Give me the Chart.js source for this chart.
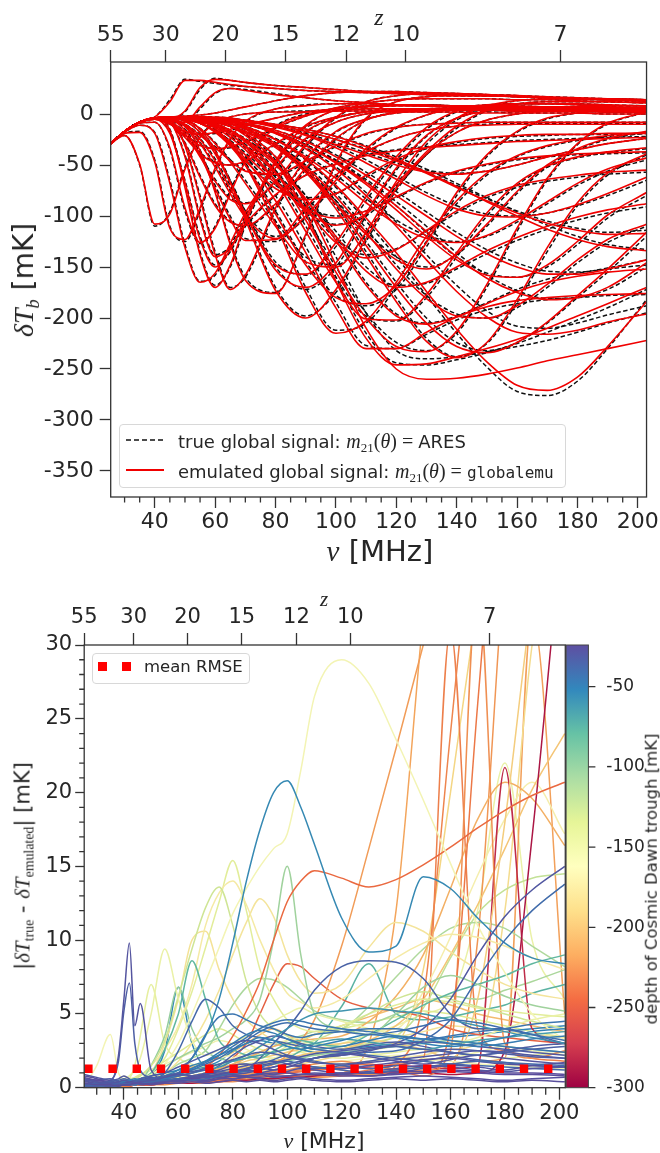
<!DOCTYPE html>
<html>
<head>
<meta charset="utf-8">
<script src="https://cdn.jsdelivr.net/npm/chart.js@4.4.1/dist/chart.umd.min.js"></script>
<style>
body { margin: 0; background: #fff; }
#wrap { position: relative; width: 660px; height: 1153px; overflow: hidden; }
.box { position: absolute; left: 0; width: 660px; }
.t { position: absolute; white-space: nowrap; color: #262626; font-family: 'DejaVu Sans', sans-serif; line-height: 1; }
.c { transform: translate(-50%, -50%); }
.r { transform: translate(-50%, -50%) rotate(-90deg); }
.m { font-family: 'Liberation Serif', serif; font-style: italic; }
.rm { font-family: 'Liberation Serif', serif; font-style: normal; }
sub { font-size: 0.66em; vertical-align: -0.3em; line-height: 0; }
.leg { position: absolute; background: rgba(255,255,255,0.85); border: 1px solid #d8d8d8; border-radius: 4px; }
</style>
</head>
<body>
<div id="wrap">
  <div class="box" style="top:0;height:575px"><canvas id="top"></canvas></div>
  <div class="box" style="top:575px;height:578px"><canvas id="bot"></canvas></div>

  <!-- top panel labels -->
  <div class="t c m" style="left:379px;top:17px;font-size:24px">z</div>
  <div class="t r" style="left:24px;top:280px;font-size:28px"><span class="m">δT</span><sub class="m">b</sub> [mK]</div>
  <div class="t c" style="left:380px;top:551px;font-size:29px"><span class="m">ν</span> [MHz]</div>

  <div class="leg" style="left:119px;top:424px;width:445px;height:62px"></div>
  <svg style="position:absolute;left:126px;top:434px" width="40" height="12"><line x1="0" y1="6" x2="38" y2="6" stroke="#111" stroke-width="1.6" stroke-dasharray="5,3"/></svg>
  <div class="t" style="left:178px;top:431px;font-size:18px">true global signal: <span class="m" style="font-size:20px">m</span><sub class="rm" style="font-size:13px">21</sub><span class="rm" style="font-size:20px">(</span><span class="m" style="font-size:20px">θ</span><span class="rm" style="font-size:20px">) = </span> ARES</div>
  <svg style="position:absolute;left:126px;top:464px" width="40" height="12"><line x1="0" y1="6" x2="38" y2="6" stroke="#f00000" stroke-width="1.8"/></svg>
  <div class="t" style="left:178px;top:461px;font-size:18px">emulated global signal: <span class="m" style="font-size:20px">m</span><sub class="rm" style="font-size:13px">21</sub><span class="rm" style="font-size:20px">(</span><span class="m" style="font-size:20px">θ</span><span class="rm" style="font-size:20px">) = </span><span style="font-family:'DejaVu Sans Mono',monospace;font-size:16px">globalemu</span></div>

  <!-- bottom panel labels -->
  <div class="t c m" style="left:324px;top:599px;font-size:21px">z</div>
  <div class="t r" style="left:23px;top:866px;font-size:21px">|<span class="m">δT</span><sub class="rm">true</sub> - <span class="m">δT</span><sub class="rm">emulated</sub>| [mK]</div>
  <div class="t c" style="left:324px;top:1141px;font-size:22px"><span class="m">ν</span> [MHz]</div>
  <div class="t r" style="left:652px;top:879px;font-size:16.5px">depth of Cosmic Dawn trough [mK]</div>

  <div class="leg" style="left:92px;top:653px;width:156px;height:29px"></div>
  <div style="position:absolute;left:98px;top:662px;width:9px;height:9px;background:#ff0000"></div>
  <div style="position:absolute;left:122px;top:662px;width:9px;height:9px;background:#ff0000"></div>
  <div class="t" style="left:144px;top:659px;font-size:16.5px">mean RMSE</div>
</div>

<script>
// ---------- data ----------
var freqGrid = [25.4, 30, 35, 40, 45, 50, 55, 60, 65, 70, 80, 90, 100, 110, 120, 130, 140, 150, 160, 170, 180, 190, 202.9];

// true global signals (ARES), mK
var aresSignals = [
  [-29,-21,-50,-110,-96,-52,-22,-9,-3,0,2,3,3,3,3,2,2,2,1,1,1,0,0],
  [-29,-19,-17,-45,-110,-125,-95,-55,-25,-8,5,9,10,10,9,9,8,8,7,7,6,6,5],
  [-29,-17,-8,-3,14,34,32,30,28,27,25,23,22,21,20,19,18,18,17,16,15,15,14],
  [-29,-17,-8,-4,-4,2,24,35,33,31,28,26,24,22,21,20,19,18,17,16,15,14,13],
  [-29,-17,-9,-8,-35,-95,-127,-110,-75,-45,-12,0,4,5,5,5,4,4,3,3,3,2,2],
  [-29,-17,-8,-5,-15,-70,-135,-168,-150,-110,-50,-18,-4,2,4,5,5,4,4,3,3,3,2],
  [-29,-17,-8,-4,-6,-30,-80,-135,-170,-160,-95,-45,-18,-5,1,3,4,4,4,3,3,3,2],
  [-29,-17,-8,-4,-4,-12,-35,-75,-125,-160,-175,-120,-50,-5,12,17,18,18,17,16,15,14,13],
  [-29,-17,-8,-4,-8,-40,-100,-138,-130,-110,-80,-60,-48,-40,-35,-32,-30,-28,-26,-25,-24,-23,-22],
  [-29,-17,-8,-4,-3,-5,-15,-35,-65,-100,-170,-198,-175,-125,-75,-40,-18,-6,0,3,4,4,4],
  [-29,-17,-8,-4,-3,-3,-6,-14,-28,-48,-105,-170,-212,-205,-170,-125,-88,-60,-42,-32,-26,-22,-19],
  [-29,-17,-8,-4,-3,-3,-4,-7,-12,-20,-45,-95,-160,-215,-244,-246,-241,-234,-225,-214,-202,-190,-172],
  [-29,-17,-8,-4,-3,-3,-4,-7,-12,-19,-42,-85,-140,-195,-232,-240,-238,-233,-228,-222,-214,-205,-195],
  [-29,-17,-8,-4,-3,-3,-3,-5,-8,-12,-25,-45,-72,-105,-140,-178,-215,-248,-272,-276,-262,-230,-182],
  [-29,-17,-8,-4,-3,-3,-5,-9,-16,-26,-55,-100,-150,-195,-224,-232,-215,-170,-115,-65,-30,-10,2],
  [-29,-17,-8,-4,-3,-3,-4,-6,-9,-14,-28,-52,-85,-125,-165,-200,-224,-232,-224,-205,-180,-155,-120],
  [-29,-17,-8,-4,-3,-4,-8,-16,-30,-48,-95,-145,-178,-188,-172,-130,-80,-42,-18,-5,1,3,3],
  [-29,-17,-8,-4,-4,-6,-14,-28,-45,-65,-105,-140,-148,-118,-70,-30,-6,7,13,15,15,14,13],
  [-29,-17,-8,-4,-5,-12,-28,-50,-75,-98,-120,-102,-68,-36,-14,-1,6,9,10,10,10,9,8],
  [-29,-17,-8,-4,-7,-18,-40,-64,-82,-87,-68,-32,-4,12,18,20,20,19,18,16,15,14,13],
  [-29,-17,-8,-4,-3,-3,-3,-4,-5,-7,-12,-19,-28,-38,-48,-55,-58,-56,-50,-42,-35,-29,-24],
  [-29,-17,-8,-4,-3,-3,-3,-4,-5,-7,-12,-20,-31,-45,-61,-77,-90,-98,-100,-97,-90,-80,-65],
  [-29,-17,-8,-4,-3,-3,-3,-5,-7,-10,-18,-30,-45,-64,-86,-110,-136,-158,-173,-181,-180,-172,-150],
  [-29,-17,-8,-4,-3,-3,-3,-3,-4,-6,-10,-15,-22,-31,-42,-54,-68,-82,-96,-109,-120,-128,-133],
  [-29,-17,-8,-4,-3,-2,-1,1,4,7,13,18,21,22,22,21,20,19,18,17,16,15,14],
  [-29,-17,-8,-4,-9,-22,-38,-47,-50,-47,-30,-13,-3,2,4,5,5,5,5,4,4,4,3],
  [-29,-17,-8,-4,-4,-5,-9,-17,-29,-43,-70,-82,-78,-62,-46,-34,-28,-24,-22,-21,-20,-20,-19],
  [-29,-17,-8,-4,-3,-4,-7,-11,-17,-25,-47,-80,-115,-150,-168,-166,-152,-137,-124,-113,-104,-97,-91],
  [-29,-17,-8,-4,-3,-4,-5,-8,-12,-17,-30,-50,-78,-112,-148,-178,-196,-200,-190,-170,-146,-126,-110],
  [-29,-17,-8,-4,-3,-5,-9,-16,-27,-41,-80,-130,-185,-227,-230,-216,-202,-192,-186,-182,-180,-178,-177],
  [-29,-18,-11,-18,-65,-128,-164,-158,-130,-100,-55,-25,-8,0,3,4,4,4,3,3,3,2,2],
  [-29,-17,-8,-5,-7,-9,5,20,25,24,20,16,13,11,9,8,7,6,6,5,5,5,4],
  [-29,-17,-8,-4,-5,-11,-24,-44,-70,-95,-145,-158,-130,-85,-45,-15,2,8,10,10,9,8,8],
  [-29,-17,-8,-4,-3,-3,-4,-6,-9,-13,-24,-40,-60,-83,-104,-119,-125,-120,-106,-88,-70,-56,-45],
  [-29,-17,-8,-4,-3,-4,-7,-13,-22,-33,-62,-92,-108,-100,-72,-40,-14,3,10,12,12,12,11],
  [-29,-17,-8,-4,-3,-3,-3,-4,-6,-9,-16,-26,-40,-57,-76,-96,-116,-133,-146,-154,-155,-151,-143],
  [-29,-17,-8,-4,-8,-20,-30,-34,-33,-28,-14,-2,6,11,14,15,15,15,14,14,13,12,11],
  [-29,-17,-8,-4,-3,-4,-6,-11,-19,-30,-62,-110,-160,-198,-203,-180,-140,-100,-70,-52,-43,-38,-34],
  [-29,-17,-8,-5,-18,-65,-120,-148,-135,-105,-48,-12,4,8,9,9,8,8,8,7,7,7,6],
  [-29,-17,-8,-4,-5,-15,-38,-70,-100,-122,-125,-95,-62,-38,-24,-16,-12,-10,-9,-9,-9,-9,-9],
  [-29,-17,-8,-4,-4,-7,-18,-38,-65,-95,-150,-172,-150,-100,-55,-22,-4,3,5,6,6,5,5],
  [-29,-17,-8,-4,-3,-5,-9,-16,-26,-38,-65,-90,-100,-95,-82,-68,-57,-50,-45,-42,-40,-39,-38],
  [-29,-17,-8,-4,-3,-4,-7,-12,-20,-30,-56,-90,-122,-138,-132,-115,-97,-82,-72,-66,-62,-59,-57],
  [-29,-17,-8,-4,-3,-3,-5,-8,-12,-17,-32,-55,-85,-115,-140,-150,-138,-110,-78,-52,-35,-25,-18],
  [-29,-17,-8,-4,-3,-3,-3,-5,-7,-10,-19,-33,-52,-77,-106,-138,-168,-193,-208,-210,-205,-197,-188],
  [-29,-17,-8,-4,-3,-4,-6,-10,-16,-24,-46,-80,-120,-165,-196,-205,-198,-185,-172,-162,-156,-152,-148],
  [-29,-17,-8,-5,-10,-17,-20,-19,-16,-12,-4,2,5,7,8,8,8,8,7,7,7,6,6],
  [-29,-17,-8,-4,-5,-10,-20,-32,-45,-55,-60,-48,-32,-20,-13,-10,-9,-8,-8,-8,-8,-8,-8],
  [-29,-17,-8,-4,-3,-3,-4,-5,-7,-10,-18,-30,-46,-66,-90,-116,-140,-156,-160,-150,-128,-102,-80],
  [-29,-17,-8,-4,-3,-3,-3,-4,-5,-7,-11,-17,-25,-34,-45,-57,-70,-83,-95,-105,-112,-116,-114],
  [-29,-17,-8,-4,-9,-28,-60,-88,-105,-110,-90,-55,-25,-6,2,5,6,6,6,5,5,5,4],
  [-29,-17,-8,-4,-3,-3,-4,-6,-10,-15,-30,-55,-90,-135,-180,-220,-238,-225,-185,-135,-90,-60,-40]
];

// emulated global signals (globalemu), mK
var emuSignals = [
  [-29,-21,-49,-108,-98,-54,-23,-9,-3,0,2,2,3,3,2,2,2,1,1,1,1,0,0],
  [-29,-19,-18,-47,-112,-123,-92,-53,-24,-7,5,8,10,10,9,8,8,7,7,6,6,5,5],
  [-29,-17,-8,-3,12,33,33,31,29,27,25,23,22,21,20,19,18,18,17,16,15,15,14],
  [-29,-17,-8,-4,-4,3,26,34,33,31,28,26,24,22,21,20,19,18,17,16,15,14,13],
  [-29,-17,-9,-8,-33,-92,-126,-112,-78,-47,-13,-1,3,5,5,5,4,4,3,3,3,2,2],
  [-29,-17,-8,-5,-16,-72,-138,-170,-148,-107,-48,-17,-4,2,4,4,5,4,4,3,3,3,2],
  [-29,-17,-8,-4,-6,-31,-83,-138,-172,-158,-92,-44,-17,-5,1,3,4,4,4,3,3,3,2],
  [-29,-17,-8,-4,-4,-12,-36,-77,-128,-163,-176,-118,-48,-4,12,17,18,18,17,16,15,14,13],
  [-29,-17,-8,-4,-8,-42,-103,-140,-131,-108,-79,-60,-49,-41,-36,-33,-31,-29,-27,-26,-25,-24,-23],
  [-29,-17,-8,-4,-3,-5,-15,-36,-67,-103,-173,-200,-172,-122,-73,-39,-18,-6,0,3,4,4,4],
  [-29,-17,-8,-4,-3,-3,-6,-14,-29,-50,-108,-175,-215,-203,-165,-120,-85,-58,-41,-31,-25,-21,-18],
  [-29,-17,-8,-4,-3,-3,-4,-7,-12,-21,-47,-98,-164,-220,-246,-245,-238,-230,-221,-210,-198,-186,-170],
  [-29,-17,-8,-4,-3,-3,-4,-7,-12,-19,-42,-88,-148,-210,-250,-260,-259,-255,-249,-242,-236,-230,-222],
  [-29,-17,-8,-4,-3,-3,-3,-5,-8,-12,-25,-44,-70,-102,-136,-174,-211,-243,-266,-271,-258,-228,-184],
  [-29,-17,-8,-4,-3,-3,-5,-9,-16,-27,-57,-104,-155,-200,-228,-233,-213,-167,-112,-63,-29,-9,2],
  [-29,-17,-8,-4,-3,-3,-4,-6,-9,-14,-29,-54,-88,-129,-170,-205,-228,-234,-224,-204,-178,-152,-116],
  [-29,-17,-8,-4,-3,-4,-8,-17,-31,-50,-98,-148,-180,-186,-168,-126,-77,-40,-17,-4,1,3,3],
  [-29,-17,-8,-4,-4,-6,-14,-29,-47,-68,-110,-145,-150,-116,-66,-27,-4,8,13,15,15,14,13],
  [-29,-17,-8,-4,-5,-12,-29,-52,-78,-101,-122,-100,-65,-34,-13,-1,6,9,10,10,10,9,8],
  [-29,-17,-8,-4,-7,-19,-42,-66,-84,-88,-66,-30,-3,12,18,20,20,19,18,16,15,14,13],
  [-29,-17,-8,-4,-3,-3,-3,-4,-5,-7,-12,-20,-30,-40,-50,-57,-59,-56,-50,-42,-35,-29,-24],
  [-29,-17,-8,-4,-3,-3,-3,-4,-5,-7,-13,-21,-33,-48,-64,-80,-93,-100,-101,-97,-89,-78,-62],
  [-29,-17,-8,-4,-3,-3,-3,-5,-7,-10,-18,-31,-47,-67,-90,-115,-140,-161,-175,-182,-180,-170,-146],
  [-29,-17,-8,-4,-3,-3,-3,-3,-4,-6,-10,-15,-22,-32,-44,-57,-71,-86,-100,-113,-123,-130,-134],
  [-29,-17,-8,-4,-3,-2,-1,1,4,7,13,18,21,22,22,21,20,19,18,17,16,15,14],
  [-29,-17,-8,-4,-9,-23,-39,-48,-50,-46,-29,-12,-3,2,4,5,5,5,5,4,4,4,3],
  [-29,-17,-8,-4,-4,-5,-9,-18,-31,-46,-73,-84,-78,-60,-44,-33,-27,-23,-21,-20,-20,-19,-19],
  [-29,-17,-8,-4,-3,-4,-7,-11,-18,-27,-50,-84,-120,-154,-170,-165,-150,-134,-121,-110,-101,-94,-88],
  [-29,-17,-8,-4,-3,-4,-5,-8,-12,-17,-31,-52,-81,-116,-152,-181,-198,-200,-188,-167,-143,-123,-108],
  [-29,-17,-8,-4,-3,-5,-9,-17,-29,-44,-85,-136,-190,-230,-230,-214,-199,-189,-183,-180,-178,-177,-176],
  [-29,-18,-11,-19,-68,-131,-165,-156,-127,-97,-53,-24,-8,0,3,4,4,4,3,3,3,2,2],
  [-29,-17,-8,-5,-7,-8,7,21,25,23,19,16,13,11,9,8,7,6,6,5,5,5,4],
  [-29,-17,-8,-4,-5,-11,-25,-46,-73,-99,-148,-157,-126,-81,-42,-13,3,8,10,10,9,8,8],
  [-29,-17,-8,-4,-3,-3,-4,-6,-9,-13,-25,-42,-63,-87,-108,-122,-126,-119,-104,-86,-68,-54,-43],
  [-29,-17,-8,-4,-3,-4,-7,-13,-23,-35,-65,-95,-109,-98,-69,-37,-12,4,10,12,12,12,11],
  [-29,-17,-8,-4,-3,-3,-3,-4,-6,-9,-16,-27,-42,-60,-80,-100,-120,-137,-150,-157,-157,-152,-143],
  [-29,-17,-8,-4,-8,-21,-31,-34,-32,-27,-13,-2,6,11,14,15,15,15,14,14,13,12,11],
  [-29,-17,-8,-4,-3,-4,-6,-11,-20,-32,-66,-115,-165,-201,-202,-177,-136,-97,-68,-51,-42,-37,-33],
  [-29,-17,-8,-5,-19,-67,-123,-150,-133,-102,-46,-11,4,8,9,9,8,8,8,7,7,7,6],
  [-29,-17,-8,-4,-5,-16,-40,-73,-103,-124,-123,-92,-60,-37,-24,-16,-12,-11,-10,-10,-10,-10,-10],
  [-29,-17,-8,-4,-4,-7,-18,-39,-67,-98,-153,-170,-146,-97,-53,-21,-4,3,5,6,6,5,5],
  [-29,-17,-8,-4,-3,-5,-9,-16,-27,-40,-68,-93,-102,-95,-81,-67,-56,-49,-44,-41,-39,-38,-37],
  [-29,-17,-8,-4,-3,-4,-7,-12,-20,-31,-58,-93,-126,-141,-133,-114,-95,-80,-70,-64,-60,-57,-55],
  [-29,-17,-8,-4,-3,-3,-5,-8,-12,-18,-33,-57,-88,-118,-143,-152,-137,-108,-76,-50,-34,-24,-17],
  [-29,-17,-8,-4,-3,-3,-3,-5,-7,-10,-19,-34,-54,-80,-110,-143,-174,-199,-214,-216,-212,-204,-196],
  [-29,-17,-8,-4,-3,-4,-6,-10,-16,-25,-48,-83,-124,-168,-198,-206,-199,-186,-174,-165,-159,-155,-152],
  [-29,-17,-8,-5,-10,-17,-20,-18,-15,-11,-4,2,5,7,8,8,8,8,7,7,7,6,6],
  [-29,-17,-8,-4,-5,-10,-21,-33,-46,-56,-59,-46,-31,-19,-13,-10,-9,-8,-8,-8,-8,-8,-8],
  [-29,-17,-8,-4,-3,-3,-4,-5,-7,-10,-18,-31,-48,-69,-94,-120,-143,-158,-160,-148,-125,-99,-77],
  [-29,-17,-8,-4,-3,-3,-3,-4,-5,-7,-11,-17,-25,-35,-46,-58,-72,-85,-97,-107,-114,-118,-117],
  [-29,-17,-8,-4,-9,-29,-62,-90,-106,-109,-88,-53,-24,-6,2,5,6,6,6,5,5,5,4],
  [-29,-17,-8,-4,-3,-3,-4,-6,-10,-15,-31,-57,-93,-139,-184,-223,-239,-224,-182,-131,-87,-58,-39]
];

// bottom panel: absolute emulation error, mK
var errGrid = [25.4,30,35,38,40,42,44,46,50,55,60,65,70,75,80,85,90,95,100,105,110,120,130,140,150,160,170,180,190,202];
var troughDepth = [-25,-29,-34,-38,-27,-48,-31,-24,
  -26,-32,-42,-50,-28,-36,-45,-60,-65,-24,-30,-28,-33,-30,-40,-35,-45,-38,
  -55,-160,-245,-105,-78,-150,-128,-172,-140,-178,-222,-232,-238,-228,-195,-290,-280,-200,-212,-168,
  -112,-122,-250,-110,-75,-100,-145,-180,-160,-52,-155,-135,-205,
  -218,-235,-225,-185,-220,-190,-150];
var errCurves = [
  [0.3,0.2,0.2,0.1,0.2,0.2,0.3,0.3,0.2,0.3,0.3,0.4,0.3,0.4,0.5,0.4,0.5,0.4,0.5,0.6,0.5,0.4,0.5,0.6,0.5,0.6,0.5,0.4,0.5,0.4],
  [0.6,0.4,0.3,0.4,0.5,0.4,0.3,0.4,0.5,0.7,0.9,0.8,0.7,0.9,1.1,1.2,1.0,0.9,1.1,1.3,1.2,1.0,1.1,1.3,1.5,1.4,1.2,1.1,1.3,1.4],
  [0.2,0.3,0.4,0.3,0.2,0.3,0.4,0.5,0.6,0.8,1.0,1.1,1.3,1.6,1.9,2.2,2.4,2.3,2.1,1.9,2.0,2.3,2.6,2.8,2.6,2.4,2.2,2.4,2.6,2.8],
  [0.1,0.2,0.2,0.3,0.3,0.2,0.2,0.3,0.4,0.5,0.6,0.5,0.6,0.8,1.0,1.2,1.4,1.6,1.8,1.6,1.4,1.2,1.0,1.2,1.4,1.6,1.8,1.7,1.6,1.5],
  [0.4,0.3,0.2,0.2,0.3,0.3,0.2,0.3,0.4,0.4,0.5,0.7,0.9,1.0,0.9,0.8,1.0,1.2,1.4,1.5,1.4,1.3,1.5,1.7,1.9,2.0,1.8,1.6,1.5,1.4],
  [0.2,0.2,0.3,0.3,0.4,0.5,0.6,0.5,0.4,0.6,0.9,1.3,1.8,2.4,3.0,3.6,3.9,3.7,3.3,2.9,2.6,2.8,3.2,3.5,3.3,3.0,2.8,3.0,3.3,3.5],
  [0.1,0.1,0.2,0.2,0.3,0.3,0.3,0.4,0.4,0.5,0.6,0.7,0.8,0.9,1.1,1.3,1.5,1.7,1.9,2.1,2.3,2.5,2.7,2.9,3.1,3.0,2.8,2.6,2.4,2.2],
  [0.7,0.5,0.4,0.3,0.3,0.4,0.4,0.3,0.4,0.5,0.5,0.6,0.7,0.7,0.8,0.8,0.9,1.0,1.0,0.9,0.9,0.8,0.8,0.9,1.0,1.1,1.0,0.9,0.9,0.8],
  [0.8,0.6,0.3,0.2,0.3,0.4,0.3,0.2,0.3,0.4,0.6,0.5,0.4,0.6,0.8,0.7,0.6,0.5,0.6,0.7,0.6,0.5,0.6,0.7,0.8,0.7,0.6,0.5,0.6,0.7],
  [0.4,0.5,0.6,0.4,0.3,0.4,0.5,0.6,0.8,1.0,1.4,1.8,2.2,2.6,3.0,3.2,3.0,2.6,2.2,1.9,1.7,1.6,1.8,2.1,2.4,2.6,2.5,2.3,2.1,2.0],
  [0.3,0.2,0.3,0.4,0.5,0.4,0.3,0.4,0.5,0.7,0.9,1.2,1.6,2.0,2.6,3.2,3.8,4.2,4.4,4.2,4.0,3.8,3.6,3.8,4.2,4.6,4.4,4.0,3.6,3.2],
  [0.2,0.2,0.3,0.3,0.4,0.4,0.5,0.6,0.8,1.0,1.2,1.5,1.8,2.2,2.6,3.0,3.4,3.2,2.8,2.6,2.8,3.2,3.6,3.4,3.0,2.8,3.0,3.4,3.8,4.0],
  [0.5,0.4,0.3,0.2,0.2,0.3,0.4,0.5,0.6,0.5,0.4,0.6,0.9,1.2,1.5,1.6,1.4,1.2,1.4,1.7,2.0,2.3,2.1,1.8,1.6,1.9,2.2,2.0,1.8,1.6],
  [0.2,0.3,0.4,0.5,0.6,0.5,0.4,0.3,0.4,0.6,0.8,1.0,1.2,1.1,1.0,1.3,1.6,1.9,2.2,2.0,1.8,1.5,1.3,1.5,1.8,2.1,1.9,1.7,1.5,1.4],
  [0.1,0.2,0.2,0.3,0.3,0.4,0.4,0.5,0.6,0.8,1.0,1.3,1.7,2.2,2.8,3.4,4.0,4.4,4.6,4.5,4.3,4.0,3.8,3.5,3.3,3.5,3.8,4.0,4.3,4.5],
  [0.1,0.1,0.2,0.2,0.3,0.3,0.3,0.4,0.5,0.6,0.8,1.0,1.2,1.4,1.8,2.2,2.8,3.4,4.0,4.6,5.0,5.2,5.4,5.2,5.0,4.6,4.2,3.8,3.4,3.0],
  [0.2,0.3,0.2,0.3,0.4,0.5,0.4,0.3,0.5,0.7,0.9,1.2,1.4,1.6,1.8,2.0,2.2,2.4,2.6,2.8,3.0,3.3,3.1,2.8,2.6,2.9,3.2,3.4,3.6,3.8],
  [0.6,0.5,0.4,0.3,0.2,0.2,0.3,0.3,0.3,0.4,0.4,0.5,0.5,0.6,0.6,0.7,0.7,0.8,0.8,0.9,0.9,1.0,1.0,1.1,1.1,1.2,1.1,1.0,1.0,0.9],
  [0.9,0.7,0.5,0.6,0.8,0.6,0.4,0.5,0.7,0.6,0.5,0.7,0.9,1.1,1.3,1.5,1.7,1.8,1.6,1.4,1.3,1.5,1.7,1.9,2.1,2.3,2.5,2.4,2.2,2.0],
  [0.2,0.3,0.4,2.2,6.0,9.8,4.2,5.7,1.2,0.6,0.5,0.6,0.5,0.7,0.6,0.8,0.9,0.7,0.8,0.9,1.0,0.9,0.8,1.0,1.3,1.5,1.4,1.2,1.5,1.7],
  [0.1,0.3,0.5,1.8,5.2,7.1,3.0,1.2,0.7,0.5,0.6,0.8,1.0,1.5,2.2,2.8,3.2,3.5,3.3,3.0,2.8,2.6,2.9,3.1,2.8,2.4,2.2,2.5,2.8,3.0],
  [0.1,0.1,0.1,0.2,0.2,0.2,0.3,0.3,0.3,0.4,0.5,0.6,0.7,0.8,0.9,1.0,1.2,1.4,1.6,1.8,2.0,2.2,2.5,3.0,4.0,6.0,9.0,11.6,13.4,15.0],
  [0.1,0.1,0.2,0.2,0.2,0.3,0.3,0.3,0.4,0.5,0.6,0.7,0.8,0.9,1.0,1.1,1.2,1.4,1.6,1.8,2.0,2.2,2.4,2.5,3.2,4.6,7.4,10.0,12.0,13.8],
  [0.1,0.1,0.1,0.2,0.2,0.2,0.3,0.3,0.3,0.4,0.5,0.6,0.7,0.8,1.0,1.2,2.0,3.0,4.0,5.2,6.6,8.2,8.6,8.5,7.4,5.0,4.0,4.0,3.6,3.0],
  [0.1,0.1,0.1,0.1,0.2,0.2,0.2,0.3,0.3,0.5,1.0,2.0,3.6,4.8,5.0,4.6,4.2,4.0,3.6,3.4,3.6,3.8,4.0,4.0,3.6,3.2,3.0,2.8,2.6,2.4],
  [0.1,0.1,0.1,0.2,0.2,0.2,0.3,0.3,0.5,1.0,2.5,4.5,6.0,5.4,4.2,3.6,3.4,3.2,3.0,2.8,2.6,2.4,2.2,2.0,1.8,1.6,1.5,1.4,1.3,1.2],
  [0.2,0.3,0.2,0.3,0.4,0.3,0.4,0.5,0.6,0.8,1.2,2.0,3.5,6.0,9.8,14.0,17.5,20.0,20.8,19.0,16.5,11.5,9.2,9.6,14.3,13.5,11.5,9.8,8.8,8.4],
  [0.1,0.2,0.3,0.3,0.4,0.5,0.5,0.6,0.9,1.6,3.0,5.0,7.2,9.5,11.8,13.5,15.0,16.2,17.2,21.5,26.5,29.0,27.4,23.6,19.5,15.2,11.0,7.8,5.0,3.2],
  [0.1,0.1,0.2,0.2,0.3,0.3,0.3,0.4,0.5,0.6,0.8,1.0,1.4,2.2,3.5,5.2,7.2,10.0,12.6,14.0,14.7,14.2,13.6,14.1,15.1,16.3,17.6,18.8,19.8,20.7],
  [0.1,0.2,0.3,0.3,0.4,0.4,0.5,0.5,0.8,1.4,2.0,2.5,3.0,3.4,4.0,4.6,6.0,10.0,15.0,9.0,5.0,4.0,3.6,5.0,6.8,7.6,7.0,6.2,5.6,5.2],
  [0.1,0.1,0.2,0.3,0.3,0.4,0.5,0.6,1.0,2.6,5.0,8.6,6.0,3.2,2.6,2.2,2.0,2.5,3.0,3.2,3.0,2.8,3.6,4.6,5.6,6.4,7.0,7.6,8.4,9.0],
  [0.1,0.2,0.3,0.4,0.6,0.8,1.2,2.0,5.0,9.4,6.0,3.2,2.2,2.6,3.0,3.5,4.0,4.5,5.0,5.4,5.0,4.5,4.0,3.6,3.2,3.0,3.4,4.0,4.6,5.0],
  [0.1,0.2,0.2,0.3,0.4,0.5,0.6,0.8,1.5,3.2,6.2,9.4,12.2,13.6,11.0,7.2,5.0,4.0,3.5,3.0,3.2,4.0,5.0,6.0,6.5,6.0,5.5,5.0,4.5,4.0],
  [0.1,0.1,0.2,0.3,0.4,0.5,0.6,0.8,1.5,2.6,4.2,7.0,11.0,13.2,14.0,12.4,10.0,8.0,6.4,5.8,5.4,6.0,7.4,8.8,9.8,10.4,10.2,9.6,8.8,8.0],
  [0.1,0.1,0.2,0.2,0.3,0.4,0.5,0.6,1.0,2.0,4.0,6.5,9.5,12.6,15.4,12.0,8.0,6.0,4.6,4.0,3.8,4.2,5.0,5.6,6.0,5.8,5.4,5.2,5.0,4.8],
  [0.1,0.1,0.1,0.2,0.2,0.3,0.3,0.4,0.6,1.0,1.8,3.0,4.6,6.6,9.0,11.2,12.8,11.6,9.0,7.2,6.4,7.0,9.5,11.2,10.6,9.2,8.0,7.0,6.4,6.0],
  [0.1,0.1,0.1,0.1,0.2,0.2,0.2,0.3,0.3,0.4,0.5,0.6,0.7,0.8,0.9,1.0,1.2,1.6,2.2,3.2,4.6,9.6,16.2,23.0,30.0,37.0,44.0,50.0,55.0,60.0],
  [0.1,0.1,0.1,0.1,0.1,0.2,0.2,0.2,0.3,0.3,0.4,0.4,0.5,0.6,0.7,0.8,0.9,1.0,1.1,1.2,1.3,1.2,0.8,1.5,6.0,24.0,42.0,55.0,60.0,62.0],
  [0.1,0.1,0.1,0.1,0.1,0.1,0.2,0.2,0.2,0.3,0.3,0.4,0.4,0.5,0.6,0.7,0.8,0.9,1.0,1.1,1.2,1.4,1.6,1.2,0.8,4.0,26.0,48.0,60.0,65.0],
  [0.1,0.1,0.1,0.1,0.1,0.2,0.2,0.2,0.3,0.3,0.4,0.5,0.6,0.7,0.8,0.9,1.0,1.1,1.2,1.4,1.6,1.8,1.5,1.2,1.0,2.5,34.0,3.0,2.0,2.5],
  [0.1,0.1,0.1,0.2,0.2,0.2,0.3,0.3,0.4,0.5,0.6,0.8,1.0,1.2,1.5,1.8,2.0,2.2,2.4,2.6,2.8,3.0,3.2,3.0,2.6,2.0,6.0,18.0,33.0,45.0],
  [0.1,0.1,0.1,0.1,0.1,0.1,0.2,0.2,0.2,0.3,0.3,0.3,0.4,0.4,0.5,0.5,0.6,0.6,0.7,0.7,0.8,0.9,1.0,1.0,1.0,0.9,1.0,2.5,17.0,40.0],
  [0.1,0.1,0.1,0.1,0.1,0.2,0.2,0.2,0.2,0.3,0.3,0.4,0.4,0.5,0.6,0.7,0.8,0.9,1.0,1.1,1.2,1.3,1.4,1.5,1.4,1.3,1.5,21.7,4.0,3.0],
  [0.1,0.1,0.2,0.2,0.2,0.3,0.3,0.3,0.4,0.5,0.6,0.7,0.8,1.0,1.2,1.4,1.6,1.8,2.0,2.2,2.4,2.6,3.2,4.2,6.0,9.0,12.4,16.2,20.2,24.0],
  [0.1,0.1,0.1,0.2,0.2,0.2,0.3,0.3,0.4,0.5,0.6,0.8,1.0,1.3,1.6,2.0,2.4,2.8,3.0,3.2,3.3,3.5,4.5,6.2,9.0,13.5,18.2,20.7,19.6,16.4],
  [0.1,0.1,0.2,0.2,0.3,0.3,0.4,0.4,0.5,0.6,0.8,1.0,1.3,1.6,2.0,2.4,2.8,3.0,3.2,3.4,3.6,3.8,3.9,4.0,6.5,10.2,14.4,18.2,20.7,17.2],
  [0.1,0.1,0.1,0.2,0.2,0.2,0.3,0.3,0.4,0.5,0.6,0.8,1.0,1.3,1.6,2.0,2.4,2.8,3.2,3.5,3.8,4.0,5.5,7.5,9.4,10.8,11.2,10.8,9.6,8.2],
  [0.1,0.1,0.1,0.1,0.2,0.2,0.2,0.3,0.3,0.4,0.5,0.6,0.7,0.9,1.1,1.3,1.5,1.7,1.9,2.1,2.3,2.6,3.0,3.5,5.4,8.8,11.8,13.4,14.2,14.5],
  [0.1,0.1,0.1,0.2,0.2,0.2,0.3,0.3,0.3,0.4,0.5,0.6,0.8,1.2,2.0,3.0,5.0,7.0,8.4,8.2,7.4,6.0,5.4,5.2,4.8,4.0,3.6,3.4,3.2,3.0],
  [0.1,0.1,0.2,0.2,0.2,0.3,0.3,0.4,0.6,1.0,1.6,2.0,2.5,4.0,5.6,6.8,7.4,7.3,6.8,6.0,5.2,4.6,4.4,5.0,5.8,6.2,6.0,6.6,7.2,8.0],
  [0.1,0.1,0.1,0.2,0.2,0.2,0.3,0.3,0.4,0.5,0.6,0.7,0.8,1.0,1.2,1.4,1.6,1.8,2.0,2.5,3.0,5.5,8.4,5.0,4.6,4.8,5.2,5.6,6.4,7.0],
  [0.1,0.1,0.2,0.2,0.2,0.3,0.3,0.4,1.5,3.5,6.8,4.0,2.5,2.0,1.8,1.6,1.5,1.6,1.8,2.0,2.2,2.4,2.6,2.8,3.0,3.2,3.0,2.8,2.6,2.4],
  [0.1,0.1,0.2,0.2,0.3,0.6,1.5,3.5,7.0,3.0,2.0,1.6,1.4,1.5,1.8,2.0,2.2,2.4,2.6,2.4,2.2,2.0,2.2,2.4,2.6,2.4,2.2,2.0,2.2,2.4],
  [0.1,0.1,0.2,0.2,0.3,0.3,0.4,0.5,1.0,3.0,6.0,10.0,10.6,8.0,6.0,4.6,3.8,3.2,3.0,2.8,2.6,2.8,3.0,3.4,3.8,4.2,4.0,3.8,3.6,3.4],
  [0.1,1.5,3.6,1.0,0.5,0.4,0.5,0.6,0.7,0.9,1.2,1.5,1.8,2.0,2.2,2.0,1.8,1.6,1.5,1.4,1.6,1.8,2.0,2.2,2.0,1.8,1.6,1.5,1.4,1.3],
  [0.1,0.1,0.2,0.2,0.2,0.3,0.3,0.4,0.8,2.5,6.8,3.0,1.5,1.8,2.5,3.0,3.2,3.0,2.8,2.6,2.4,2.6,2.8,3.0,3.2,3.4,3.6,3.8,4.0,4.2],
  [0.1,0.2,0.3,0.5,0.8,0.6,0.5,0.8,1.2,1.6,2.0,2.4,2.8,3.2,3.0,2.6,2.2,2.0,2.4,2.8,3.0,2.8,2.4,2.0,1.8,2.0,2.4,2.8,2.5,2.2],
  [0.1,0.2,0.3,0.4,0.5,0.6,0.7,0.9,1.2,1.8,2.4,3.0,3.6,4.0,3.6,3.0,2.6,2.4,2.8,3.2,3.6,4.0,4.4,4.8,5.2,5.0,4.6,4.2,3.8,3.4],
  [0.1,0.1,0.2,0.2,0.3,0.3,0.4,0.4,0.6,0.8,1.0,1.4,1.8,2.0,2.4,3.0,3.6,4.0,3.6,3.2,3.6,4.2,4.8,5.4,6.0,5.6,5.0,4.6,4.2,3.8],
  [0.1,0.1,0.1,0.1,0.2,0.2,0.2,0.2,0.3,0.3,0.4,0.4,0.5,0.5,0.6,0.6,0.7,0.7,0.8,0.8,0.9,1.0,3.0,12.0,32.0,50.0,60.0,65.0,68.0,70.0],
  [0.1,0.1,0.1,0.1,0.1,0.2,0.2,0.2,0.2,0.3,0.3,0.4,0.4,0.5,0.5,0.6,0.6,0.7,0.7,0.8,0.8,0.9,1.2,1.6,2.0,31.0,4.0,2.5,2.0,1.8],
  [0.1,0.1,0.1,0.1,0.1,0.1,0.2,0.2,0.2,0.2,0.3,0.3,0.3,0.4,0.4,0.5,0.5,0.6,0.6,0.7,0.7,0.8,0.9,1.0,1.2,1.5,10.0,36.0,55.0,65.0],
  [0.1,0.1,0.1,0.2,0.2,0.2,0.3,0.3,0.3,0.4,0.4,0.5,0.6,0.7,0.8,0.9,1.0,1.1,1.2,1.3,1.4,1.6,1.8,2.0,2.2,2.6,3.0,12.0,30.0,42.0],
  [0.1,0.1,0.1,0.1,0.2,0.2,0.2,0.2,0.3,0.3,0.3,0.4,0.4,0.5,0.5,0.6,0.6,0.7,0.7,0.8,0.8,0.9,1.0,1.2,1.4,1.6,1.8,2.0,32.0,5.0],
  [0.1,0.1,0.1,0.2,0.2,0.2,0.3,0.3,0.4,0.4,0.5,0.6,0.7,0.8,0.9,1.0,1.1,1.2,1.4,1.6,1.8,2.2,2.6,3.0,8.0,20.0,33.0,45.0,55.0,60.0],
  [0.1,0.1,0.2,0.2,0.3,0.3,0.4,0.4,0.5,0.6,0.7,0.8,1.0,1.2,1.4,1.6,1.8,2.0,2.2,2.4,2.6,3.0,3.6,4.2,5.0,6.0,12.0,22.0,10.0,6.0]
];
var meanRmse = 1.28;

// ticks
var freqTicks = [40, 60, 80, 100, 120, 140, 160, 180, 200];
var zLabels = [55, 30, 20, 15, 12, 10, 7];
var zFreq = [25.4, 43.6, 63.4, 83.3, 103.4, 123.2, 174.4];
var dTbTicks = [-350, -300, -250, -200, -150, -100, -50, 0];
var errTicks = [0, 5, 10, 15, 20, 25, 30];
var depthTicks = [-300, -250, -200, -150, -100, -50];
var depthMin = -300, depthMax = -24;

// ---------- styling helpers ----------
var spectral = ['#9e0142','#d53e4f','#f46d43','#fdae61','#fee08b','#ffffbf','#e6f598','#abdda4','#66c2a5','#3288bd','#5e4fa2'];
function hexRgb(h) { return [parseInt(h.substr(1,2),16), parseInt(h.substr(3,2),16), parseInt(h.substr(5,2),16)]; }
function depthColor(v) {
  var t = Math.max(0, Math.min(1, (v - depthMin) / (depthMax - depthMin))) * (spectral.length - 1);
  var i = Math.min(Math.floor(t), spectral.length - 2), f = t - i;
  var a = hexRgb(spectral[i]), b = hexRgb(spectral[i + 1]);
  var c = a.map(function (x, k) { return Math.round(x + (b[k] - x) * f); });
  // a touch darker so the pale yellows stay visible on white
  return 'rgb(' + c.map(function (x) { return Math.round(x * 0.96); }).join(',') + ')';
}
function pts(xs, ys) { return xs.map(function (x, i) { return { x: x, y: ys[i] }; }); }
function fixTicks(list) { return function (s) { s.ticks = list.map(function (v) { return { value: v }; }); }; }
function fixSize(w, h) { return function (s) { if (w != null) s.width = w; if (h != null) s.height = h; }; }

var INK = '#262626', TICK = '#333';

// frame + minor ticks
var framePlugin = {
  id: 'frame',
  afterDatasetsDraw: function (chart, args, o) {
    var ctx = chart.ctx, a = chart.chartArea, sx = chart.scales.x, sy = chart.scales.y;
    ctx.save();
    ctx.strokeStyle = TICK; ctx.lineWidth = 1.3;
    ctx.strokeRect(a.left, a.top, a.right - a.left, a.bottom - a.top);
    ctx.beginPath();
    for (var v = 30; v <= 200; v += 5) {
      if (v % 20 === 0) continue;
      var px = sx.getPixelForValue(v);
      ctx.moveTo(px, a.bottom); ctx.lineTo(px, a.bottom + o.xMinor);
    }
    if (o.yMinor) {
      for (var w = 1; w < 30; w++) {
        if (w % 5 === 0) continue;
        var py = sy.getPixelForValue(w);
        ctx.moveTo(a.left, py); ctx.lineTo(a.left - o.yMinor, py);
      }
    }
    ctx.stroke();
    ctx.restore();
  }
};

var cbarPlugin = {
  id: 'cbar',
  afterDraw: function (chart) {
    var s = chart.scales.cb; if (!s) return;
    var ctx = chart.ctx, x0 = chart.chartArea.right + 0.8, w = 22.3;
    var yT = s.getPixelForValue(depthMax), yB = s.getPixelForValue(depthMin);
    var g = ctx.createLinearGradient(0, yB, 0, yT);
    spectral.forEach(function (c, i) { g.addColorStop(i / (spectral.length - 1), c); });
    ctx.save();
    ctx.fillStyle = g; ctx.fillRect(x0, yT, w, yB - yT);
    ctx.strokeStyle = '#444'; ctx.lineWidth = 1; ctx.strokeRect(x0, yT, w, yB - yT);
    ctx.strokeStyle = TICK; ctx.lineWidth = 1.3; ctx.beginPath();
    depthTicks.forEach(function (v) { var y = s.getPixelForValue(v); ctx.moveTo(x0 + w, y); ctx.lineTo(x0 + w + 7, y); });
    ctx.stroke();
    ctx.restore();
  }
};

function tickGrid(len) {
  return { display: true, drawOnChartArea: false, drawTicks: true, tickLength: len, tickColor: TICK, tickWidth: 1.3 };
}
function font(sz) { return { family: 'DejaVu Sans', size: sz }; }

// ---------- top chart ----------
var topSets = [];
emuSignals.forEach(function (c) {
  topSets.push({ data: pts(freqGrid, c), borderColor: '#f00000', borderWidth: 1.6 });
});
aresSignals.forEach(function (c) {
  topSets.push({ data: pts(freqGrid, c), borderColor: '#111', borderWidth: 1.5, borderDash: [4.5, 2.5] });
});

new Chart(document.getElementById('top'), {
  type: 'line',
  data: { datasets: topSets },
  plugins: [framePlugin],
  options: {
    responsive: true, maintainAspectRatio: false, animation: false, devicePixelRatio: 1, events: [],
    layout: { padding: { left: 0, right: 11.8, top: 0, bottom: 0 } },
    elements: { point: { radius: 0 }, line: { cubicInterpolationMode: 'monotone', fill: false } },
    plugins: { legend: { display: false }, tooltip: { enabled: false }, frame: { xMinor: 5.5 } },
    scales: {
      x: {
        type: 'linear', position: 'bottom', min: 25.4, max: 202.9,
        afterBuildTicks: fixTicks(freqTicks), afterFit: fixSize(null, 78),
        grid: tickGrid(11), border: { display: false },
        ticks: { font: font(22), color: INK, padding: 1, maxRotation: 0, autoSkip: false }
      },
      xz: {
        type: 'linear', position: 'top', min: 25.4, max: 202.9,
        afterBuildTicks: fixTicks(zFreq), afterFit: fixSize(null, 62),
        grid: tickGrid(12), border: { display: false },
        ticks: { font: font(22), color: INK, padding: 1.5, maxRotation: 0, autoSkip: false,
                 callback: function (v, i) { return String(zLabels[i]); } }
      },
      y: {
        type: 'linear', position: 'left', min: -375.5, max: 51,
        afterBuildTicks: fixTicks(dTbTicks), afterFit: fixSize(110.7, null),
        grid: tickGrid(11), border: { display: false },
        ticks: { font: font(22), color: INK, padding: 6 }
      }
    }
  }
});

// ---------- bottom chart ----------
var botSets = [{
  data: [{ x: 25.4, y: meanRmse }, { x: 202, y: meanRmse }],
  borderColor: '#ff0000', borderWidth: 8.5, borderDash: [8.4, 15.8], borderCapStyle: 'butt', tension: 0
}];
errCurves.forEach(function (c, i) {
  botSets.push({ data: pts(errGrid, c), borderColor: depthColor(troughDepth[i]), borderWidth: 1.5 });
});

new Chart(document.getElementById('bot'), {
  type: 'line',
  data: { datasets: botSets },
  plugins: [framePlugin, cbarPlugin],
  options: {
    responsive: true, maintainAspectRatio: false, animation: false, devicePixelRatio: 1, events: [],
    layout: { padding: 0 },
    elements: { point: { radius: 0 }, line: { cubicInterpolationMode: 'monotone', fill: false } },
    plugins: { legend: { display: false }, tooltip: { enabled: false }, frame: { xMinor: 7, yMinor: 5 } },
    scales: {
      x: {
        type: 'linear', position: 'bottom', min: 25.4, max: 202.2,
        afterBuildTicks: fixTicks(freqTicks), afterFit: fixSize(null, 65.3),
        grid: tickGrid(12), border: { display: false },
        ticks: { font: font(21), color: INK, padding: 1.5, maxRotation: 0, autoSkip: false }
      },
      xz: {
        type: 'linear', position: 'top', min: 25.4, max: 202.2,
        afterBuildTicks: fixTicks(zFreq), afterFit: fixSize(null, 70),
        grid: tickGrid(12), border: { display: false },
        ticks: { font: font(21), color: INK, padding: 3, maxRotation: 0, autoSkip: false,
                 callback: function (v, i) { return String(zLabels[i]); } }
      },
      y: {
        type: 'linear', position: 'left', min: 0, max: 30,
        afterBuildTicks: fixTicks(errTicks), afterFit: fixSize(84.2, null),
        grid: tickGrid(9), border: { display: false },
        ticks: { font: font(21), color: INK, padding: 3 }
      },
      cb: {
        type: 'linear', position: 'right', min: depthMin, max: depthMax,
        afterBuildTicks: fixTicks(depthTicks), afterFit: fixSize(94.7, null),
        grid: { display: false }, border: { display: false },
        ticks: { font: font(17), color: INK, padding: 33 }
      }
    }
  }
});
</script>
</body>
</html>
